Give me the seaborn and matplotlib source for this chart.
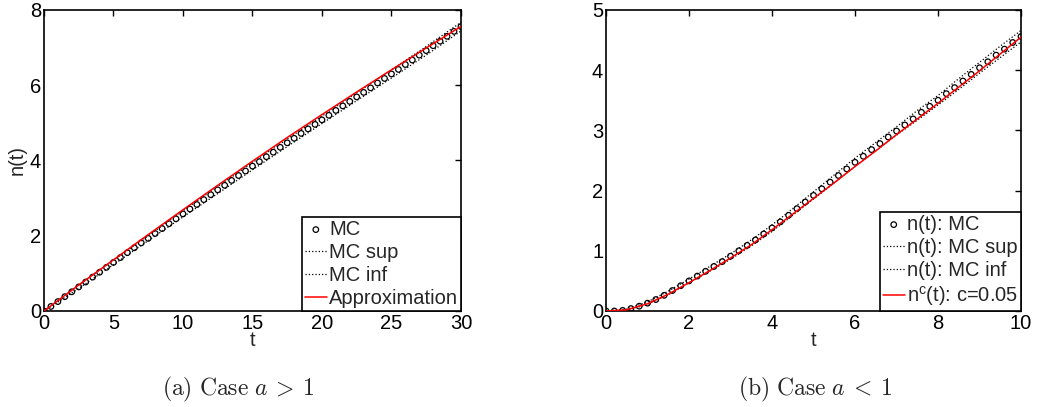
import numpy as np
import pandas as pd
import seaborn as sns
import matplotlib
matplotlib.use('Agg')
import matplotlib.pyplot as plt

# ---- case a > 1 (left panel) ----
t_left = np.arange(0, 30.01, 0.5)
mc_left = [0.00, 0.12, 0.25, 0.38, 0.51, 0.64, 0.77, 0.90, 1.03, 1.16,
           1.29, 1.42, 1.55, 1.68, 1.81, 1.93, 2.06, 2.19, 2.32, 2.45,
           2.58, 2.71, 2.83, 2.96, 3.09, 3.22, 3.34, 3.47, 3.60, 3.72,
           3.85, 3.97, 4.10, 4.22, 4.35, 4.47, 4.59, 4.72, 4.84, 4.96,
           5.08, 5.20, 5.33, 5.45, 5.57, 5.69, 5.81, 5.93, 6.06, 6.18,
           6.30, 6.42, 6.55, 6.67, 6.80, 6.92, 7.05, 7.17, 7.30, 7.43,
           7.56]
t_left_band = [0, 2.5, 5, 7.5, 10, 12.5, 15, 17.5, 20, 22.5, 25, 27.5, 30]
sup_left = [0.00, 0.69, 1.35, 2.00, 2.66, 3.31, 3.94, 4.57, 5.18, 5.80, 6.41, 7.03, 7.67]
inf_left = [0.00, 0.60, 1.23, 1.87, 2.50, 3.12, 3.75, 4.37, 4.98, 5.59, 6.19, 6.80, 7.44]
approx_left = [0.00, 0.69, 1.36, 2.03, 2.69, 3.34, 3.98, 4.61, 5.22, 5.82, 6.41, 6.99, 7.56]

# ---- case a < 1 (right panel) ----
t_right = np.arange(0, 10.001, 0.2)
mc_right = [0.00, 0.00, 0.01, 0.04, 0.08, 0.13, 0.19, 0.26, 0.34, 0.42,
            0.50, 0.58, 0.66, 0.74, 0.82, 0.91, 1.00, 1.09, 1.18, 1.28,
            1.38, 1.48, 1.59, 1.70, 1.81, 1.92, 2.03, 2.14, 2.25, 2.36,
            2.47, 2.57, 2.68, 2.78, 2.89, 2.99, 3.09, 3.19, 3.30, 3.40,
            3.50, 3.61, 3.71, 3.82, 3.93, 4.04, 4.14, 4.25, 4.35, 4.46,
            4.56]
t_right_band = [0, 0.5, 1, 1.5, 2, 2.5, 3, 3.5, 4, 4.5, 5, 5.5, 6, 6.5, 7,
                7.5, 8, 8.5, 9, 9.5, 10]
sup_right = [0.00, 0.03, 0.15, 0.33, 0.53, 0.74, 0.95, 1.18, 1.43, 1.70, 1.98,
             2.26, 2.54, 2.80, 3.06, 3.33, 3.58, 3.86, 4.13, 4.40, 4.66]
inf_right = [0.00, 0.01, 0.11, 0.27, 0.47, 0.66, 0.86, 1.08, 1.32, 1.59, 1.86,
             2.13, 2.40, 2.66, 2.92, 3.17, 3.42, 3.68, 3.95, 4.21, 4.47]
approx_right = [0.00, 0.02, 0.12, 0.28, 0.47, 0.67, 0.88, 1.10, 1.35, 1.61, 1.87,
                2.13, 2.40, 2.66, 2.93, 3.19, 3.45, 3.72, 3.99, 4.27, 4.55]

sns.set_theme(style='white')
plt.rcParams['font.family'] = ['Liberation Sans', 'DejaVu Sans']
plt.rcParams['mathtext.fontset'] = 'custom'
plt.rcParams['mathtext.rm'] = 'Liberation Sans'
plt.rcParams['axes.edgecolor'] = 'black'
plt.rcParams['axes.linewidth'] = 1.2
plt.rcParams['xtick.direction'] = 'in'
plt.rcParams['ytick.direction'] = 'in'
plt.rcParams['xtick.color'] = 'black'
plt.rcParams['ytick.color'] = 'black'

fs = 14.5

fig = plt.figure(figsize=(10.37, 4.07), dpi=100)
ax1 = fig.add_axes([0.0424, 0.2359, 0.4021, 0.7396])
ax2 = fig.add_axes([0.5844, 0.2359, 0.4002, 0.7396])


def draw_panel(ax, t, mc, tb, sup, inf, approx, labels):
    # MC markers, the two MC bounds, then the approximation on top
    sns.scatterplot(x=t, y=mc, ax=ax, marker='o', s=16, facecolor='none',
                    edgecolor='black', linewidth=0.9, label=labels[0], zorder=3)
    sns.lineplot(x=tb, y=sup, ax=ax, color='black', linestyle=':', linewidth=0.9,
                 label=labels[1])
    sns.lineplot(x=tb, y=inf, ax=ax, color='black', linestyle=':', linewidth=0.9,
                 label=labels[2])
    sns.lineplot(x=tb, y=approx, ax=ax, color='red', linewidth=1.1,
                 label=labels[3], zorder=4)
    ax.tick_params(axis='both', which='both', top=True, right=True, length=4,
                   width=1, labelsize=fs, pad=2)
    ax.set_xlabel('t', fontsize=fs, labelpad=-1)
    leg = ax.legend(loc='lower right', borderaxespad=0, fontsize=fs,
                    fancybox=False, framealpha=1, edgecolor='black',
                    handlelength=1.1, handletextpad=0.1, borderpad=0.15,
                    labelspacing=0.2)
    leg.get_frame().set_linewidth(1.2)


draw_panel(ax1, t_left, mc_left, t_left_band, sup_left, inf_left, approx_left,
           ['MC', 'MC sup', 'MC inf', 'Approximation'])
ax1.set_xlim(0, 30)
ax1.set_ylim(0, 8)
ax1.set_xticks([0, 5, 10, 15, 20, 25, 30])
ax1.set_yticks([0, 2, 4, 6, 8])
ax1.set_ylabel('n(t)', fontsize=fs, labelpad=2)

draw_panel(ax2, t_right, mc_right, t_right_band, sup_right, inf_right, approx_right,
           ['n(t): MC', 'n(t): MC sup', 'n(t): MC inf', r'n$^\mathregular{c}$(t): c=0.05'])
ax2.set_xlim(0, 10)
ax2.set_ylim(0, 5)
ax2.set_xticks([0, 2, 4, 6, 8, 10])
ax2.set_yticks([0, 1, 2, 3, 4, 5])
ax2.set_ylabel('')

fig.text(0.2295, 0.042, r'$\mathrm{(a)\ Case\ }a\:>\:1$', ha='center', va='center',
         fontsize=17, math_fontfamily='cm')
fig.text(0.786, 0.042, r'$\mathrm{(b)\ Case\ }a\:<\:1$', ha='center', va='center',
         fontsize=17, math_fontfamily='cm')

fig.savefig('out.png', dpi=100)
